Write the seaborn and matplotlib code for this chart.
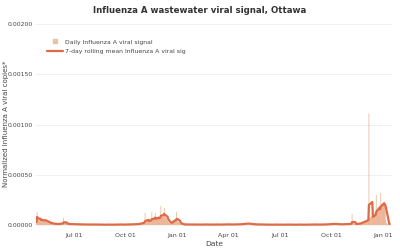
import numpy as np
import pandas as pd
import matplotlib
matplotlib.use("Agg")
import matplotlib.pyplot as plt
import matplotlib.dates as mdates
from matplotlib.lines import Line2D
from matplotlib.ticker import FuncFormatter
import seaborn as sns

title = "Influenza A wastewater viral signal, Ottawa"
y_label = "Normalized Influenza A viral copies*"
x_label = "Date"
bar_label = "Daily Influenza A viral signal"
line_label = "7-day rolling mean Influenza A viral sig"
y_ticks = [0.0, 0.0005, 0.001, 0.0015, 0.002]
unit = 1e-5  # values below are in units of 1e-5 normalized copies

# spring 2023, daily from 2023-04-26
spring23_start = "2023-04-26"
spring23 = [3, 13, 6, 5, 5,
            4, 6, 5, 4, 5, 6, 4, 5, 4, 5,
            4, 5, 3, 4, 3, 3, 2, 3, 2, 2,
            2, 1, 2, 1, 1, 2, 1, 1, 1, 1, 1,
            1, 1, 1, 1, 1, 1.5, 1, 1.5, 2, 2,
            2, 2, 7, 2, 2, 2, 1.5, 1, 1, 1,
            0.9, 0.8, 0.9, 0.8]
# summer 2023, weekly from 2023-07-01
summer23_start = "2023-07-01"
summer23 = [0.8, 0.7, 0.6, 0.5, 0.5, 0.4, 0.5, 0.4, 0.3, 0.4, 0.3, 0.4, 0.5, 0.4, 0.5, 0.6]
# winter 2023-24, daily from 2023-10-15
winter23_start = "2023-10-15"
winter23 = [0.8, 0.7, 0.9, 0.8, 0.6, 0.9, 0.8,
            1.0, 0.9, 1.2, 1.1, 1.4, 1.3, 1.6, 1.8, 2.0, 2.2,
            2.5, 2.8, 3.0, 3.2, 12, 3.5, 3.8, 4.0, 3.6, 4.2,
            4.5, 4.0, 4.8, 5.2, 4.6, 5.0, 13, 5.2, 4.8, 5.5,
            5.8, 5.2, 12, 6.0, 5.5, 6.2, 6.8, 7.0, 7.5, 7.2,
            8.0, 8.5, 19, 8.0, 8.5, 9.0, 8.2, 8.6, 17, 8.5,
            8.0, 7.0, 6.5, 5.0, 4.2, 3.2, 2.6, 2.2, 2.0, 1.8,
            2.0, 2.6, 3.4, 4.2, 4.8, 5.0, 5.2, 5.0, 4.6, 4.5, 13,
            4.0, 3.8, 3.2, 2.5, 2.0, 1.6, 1.2, 1.0, 0.8, 0.7,
            0.6, 0.5, 0.5, 0.5, 0.4, 0.5]
# 2024, weekly from 2024-01-23
y2024_start = "2024-01-23"
y2024 = [0.5, 0.4, 0.5, 0.4, 0.5, 0.4, 0.4, 0.5, 0.4, 0.5, 0.6, 0.5, 0.6, 0.7, 1.0,
         1.4, 1.0, 0.6, 0.5, 0.4, 0.4, 0.3, 0.4, 0.3, 0.3, 0.4, 0.3, 0.3, 0.4, 0.3,
         0.4, 0.4, 0.5, 0.4, 0.5, 0.6, 0.9, 1.1, 0.8, 0.7, 0.9]
# winter 2024-25, daily from 2024-11-01
winter24_start = "2024-11-01"
winter24 = [0.8, 1.0, 1.2, 1.5, 1.8, 2.0, 11, 1.8, 1.5, 1.2,
            1.0, 0.9, 1.0, 1.1, 1.0, 1.2, 1.3, 1.5, 1.4, 1.6,
            1.8, 2.0, 2.2, 2.5, 2.8, 3.0, 3.3, 3.5, 3.8, 4.0,
            4.2, 4.5, 4.8, 5.0, 5.5, 6.0, 111, 7.0, 8.0, 7.5,
            8.0, 9.0, 9.5, 8.0, 9.0, 10, 11, 12, 12, 30,
            13, 14, 15, 16, 16, 17, 18, 32, 18, 19, 20,
            20, 22, 21, 20, 18, 5.0, 2.0, 1.5, 1.0, 0.8,
            0.6, 0.5, 0.5]

segments = [(spring23_start, spring23, "D"), (summer23_start, summer23, "7D"),
            (winter23_start, winter23, "D"), (y2024_start, y2024, "7D"),
            (winter24_start, winter24, "D")]
frames = []
for start, vals, freq in segments:
    frames.append(pd.DataFrame({"date": pd.date_range(start, periods=len(vals), freq=freq),
                                "signal": np.array(vals, dtype=float) * unit}))
df = pd.concat(frames, ignore_index=True)
df["rolling"] = df.set_index("date")["signal"].rolling("7D").mean().values

line_color = "#DE6B45"
bar_color = "#E8A07C"

sns.set_style("white")
plt.rcParams["font.family"] = ["DejaVu Sans"]
fig = plt.figure(figsize=(4, 2.5), dpi=100)
ax = fig.add_axes([0.09, 0.096, 0.89, 0.816])

bars = ax.bar(df["date"], df["signal"], width=1.4, color=bar_color, alpha=0.75,
              linewidth=0, zorder=2)
for b in bars:
    b.set_snap(False)
sns.lineplot(data=df, x="date", y="rolling", ax=ax, color=line_color, linewidth=1.6, zorder=3)

ax.set_ylim(-0.00001, 0.00202)
ax.set_xlim(pd.Timestamp("2023-04-25"), pd.Timestamp("2025-01-17"))
ax.set_yticks(y_ticks)
ax.yaxis.set_major_formatter(FuncFormatter(lambda v, p: f"{v:.5f}"))
ax.xaxis.set_major_locator(mdates.MonthLocator(bymonth=[1, 4, 7, 10]))
ax.xaxis.set_major_formatter(mdates.DateFormatter("%b %d"))
ax.grid(axis="y", color="#eeeeee", linewidth=0.6, zorder=0)
ax.set_axisbelow(True)
for s in ax.spines.values():
    s.set_visible(False)
ax.tick_params(axis="y", length=0, labelsize=4.4, colors="#444444", pad=2)
ax.tick_params(axis="x", length=0, labelsize=4.5, colors="#444444", pad=5)
ax.set_xlabel(x_label, fontsize=5.4, color="#444444", labelpad=2)
ax.set_ylabel(y_label, fontsize=5.0, color="#444444")
ax.yaxis.set_label_coords(-0.077, 0.5)
fig.text(0.5, 0.975, title, ha="center", va="top", fontsize=6.2, fontweight="bold", color="#333333")

handles = [Line2D([], [], marker="s", linestyle="none", markersize=3.5, color="#EBC1A8"),
           Line2D([], [], color=line_color, linewidth=1.6)]
ax.legend(handles, [bar_label, line_label], loc="upper left", bbox_to_anchor=(0.03, 0.915),
          frameon=False, fontsize=4.4, handlelength=2.6, handletextpad=0.4,
          labelspacing=0.75, borderaxespad=0, borderpad=0, labelcolor="#444444")

fig.savefig("out.png", dpi=100)
